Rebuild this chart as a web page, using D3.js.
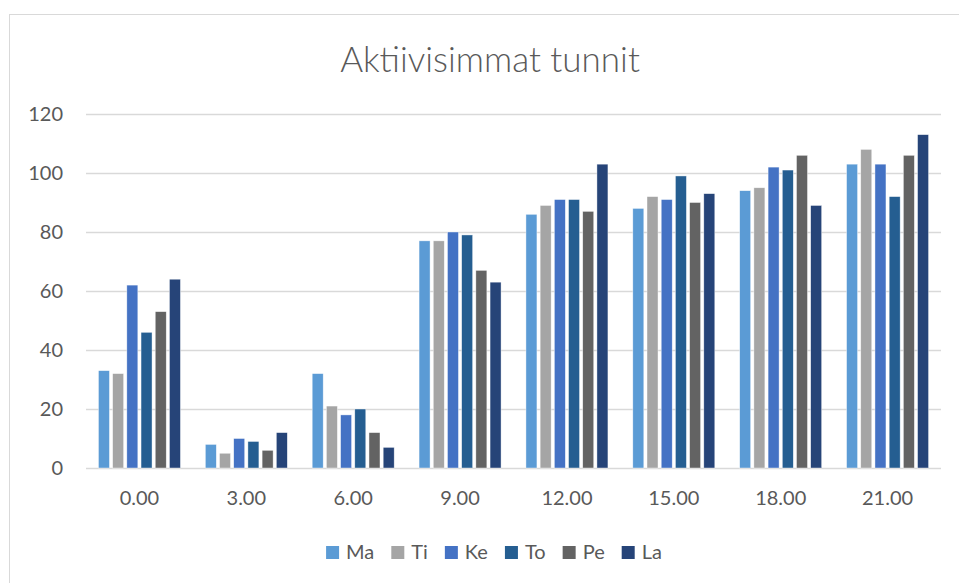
<!DOCTYPE html>
<html>
<head>
<meta charset="utf-8">
<script src="https://cdn.jsdelivr.net/npm/d3@7"></script>
<style>
  html, body { margin: 0; padding: 0; background: #fff; }
  svg { display: block; }
  text { font-family: Lato, "Liberation Sans", sans-serif; fill: #595959; }
</style>
</head>
<body>
<svg id="chart" width="959" height="583"></svg>
<script>
// Hour slots (x categories)
const hours = ["0.00", "3.00", "6.00", "9.00", "12.00", "15.00", "18.00", "21.00"];
// Weekdays (series)
const days = ["Ma", "Ti", "Ke", "To", "Pe", "La"];
// Activity per weekday, one value per hour slot
const ma = [33, 8, 32, 77, 86, 88, 94, 103];
const ti = [32, 5, 21, 77, 89, 92, 95, 108];
const ke = [62, 10, 18, 80, 91, 91, 102, 103];
const to = [46, 9, 20, 79, 91, 99, 101, 92];
const pe = [53, 6, 12, 67, 87, 90, 106, 106];
const la = [64, 12, 7, 63, 103, 93, 89, 113];
const yTicks = [0, 20, 40, 60, 80, 100, 120];
const colors = ["#5B9BD5", "#A5A5A5", "#4472C4", "#255E91", "#636363", "#264478"];

const seriesValues = [ma, ti, ke, to, pe, la];
const svg = d3.select("#chart");

// Outer chart frame
svg.append("rect")
  .attr("x", 9.5).attr("y", 14.5)
  .attr("width", 990).attr("height", 600)
  .attr("fill", "#fff").attr("stroke", "#d9d9d9").attr("stroke-width", 1);

const plot = { left: 86, right: 941, top: 114, bottom: 468 };

const x0 = d3.scaleBand().domain(hours).range([plot.left, plot.right]).padding(0);
const bw = x0.bandwidth();
const clusterW = 82;
const x1 = d3.scaleBand().domain(days)
  .range([(bw - clusterW) / 2, (bw + clusterW) / 2])
  .paddingInner(0.225).paddingOuter(0);
const y = d3.scaleLinear().domain([0, 120]).range([plot.bottom, plot.top]);

// Title
svg.append("text")
  .attr("x", 490).attr("y", 72)
  .attr("text-anchor", "middle")
  .style("font-size", "35px").style("font-weight", 300)
  .text("Aktiivisimmat tunnit");

// Gridlines + y labels
const yAxis = d3.axisLeft(y).tickValues(yTicks).tickSize(-(plot.right - plot.left)).tickPadding(23).tickFormat(d3.format("d"));
const gy = svg.append("g").attr("transform", `translate(${plot.left},0)`).call(yAxis);
gy.select(".domain").remove();
gy.selectAll(".tick line").attr("stroke", "#d9d9d9").attr("stroke-width", 1.3);
gy.selectAll(".tick text").style("font-size", "20px").attr("fill", "#595959");

// Bars
const groups = svg.append("g").selectAll("g")
  .data(hours)
  .join("g")
  .attr("transform", d => `translate(${x0(d)},0)`);

groups.selectAll("rect")
  .data((h, i) => days.map((d, s) => ({ day: d, s, v: seriesValues[s][i] })))
  .join("rect")
  .attr("x", d => x1(d.day))
  .attr("width", x1.bandwidth())
  .attr("y", d => y(d.v))
  .attr("height", d => y(0) - y(d.v))
  .attr("fill", d => colors[d.s])
  .attr("stroke", "#ffffff").attr("stroke-width", 0.6).attr("stroke-opacity", 0.7);

// X axis labels
const xAxis = d3.axisBottom(x0).tickSize(0).tickPadding(23);
const gx = svg.append("g").attr("transform", `translate(0,${plot.bottom})`).call(xAxis);
gx.select(".domain").remove();
gx.selectAll(".tick text").style("font-size", "20px").attr("fill", "#595959");

// Legend
const legend = svg.append("g");
let lx = 0;
days.forEach((d, i) => {
  const item = legend.append("g").attr("transform", `translate(${lx},0)`);
  item.append("rect").attr("x", 0).attr("y", 546).attr("width", 13).attr("height", 13).attr("fill", colors[i]);
  const t = item.append("text").attr("x", 20).attr("y", 559).style("font-size", "20px").text(d);
  lx += 20 + t.node().getComputedTextLength() + 17;
});
const legendW = lx - 17;
legend.attr("transform", `translate(${494 - legendW / 2},0)`);
</script>
</body>
</html>
